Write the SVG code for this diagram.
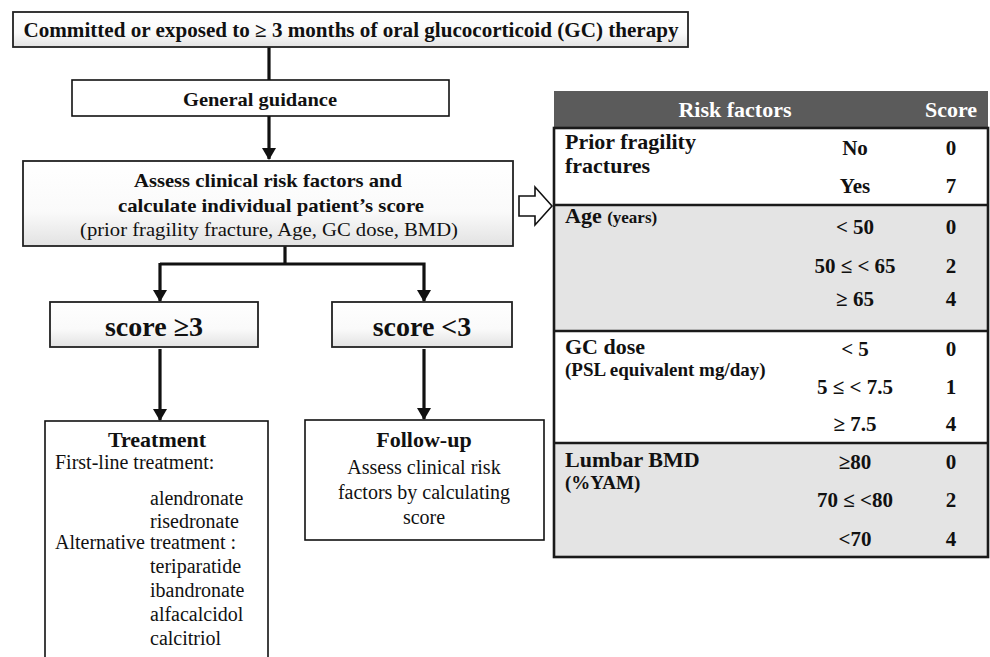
<svg xmlns="http://www.w3.org/2000/svg" width="990" height="657" viewBox="0 0 990 657">
<style>
text{font-family:"Liberation Serif","Times New Roman",serif;fill:#111}
.b{font-weight:bold}
.c{text-anchor:middle}
.box{fill:url(#g);stroke:#222;stroke-width:1.8}
.plain{fill:#fff;stroke:#111;stroke-width:1.6}
.ln{stroke:#111;stroke-width:3.2;fill:none}
.hdr{fill:#fff;font-weight:bold;font-size:22px}
.lab{font-weight:bold;font-size:22px}
.sm{font-weight:bold;font-size:19px}
.v{font-weight:bold;font-size:21px;text-anchor:middle}
.sep{stroke:#1a1a1a;stroke-width:2.6}
.t{font-size:20px}
</style>
<defs>
<linearGradient id="g" x1="0" y1="0" x2="0" y2="1">
<stop offset="0" stop-color="#ffffff"/><stop offset="0.6" stop-color="#fafafa"/><stop offset="1" stop-color="#e2e2e2"/>
</linearGradient>
<marker id="ah" viewBox="0 0 12 14" refX="11" refY="7" markerWidth="12" markerHeight="14" markerUnits="userSpaceOnUse" orient="auto">
<path d="M0,0 L12,7 L0,14 Z" fill="#111"/>
</marker>
</defs>

<g id="connectors">
<line class="ln" x1="269" y1="47" x2="269" y2="80"/>
<line class="ln" x1="269" y1="116" x2="269" y2="159" marker-end="url(#ah)"/>
<polyline class="ln" points="285,246 285,264"/>
<polyline class="ln" points="160,264 424,264 424,301" marker-end="url(#ah)"/>
<line class="ln" x1="160" y1="263" x2="160" y2="301" marker-end="url(#ah)"/>
<line class="ln" x1="160" y1="349" x2="160" y2="420" marker-end="url(#ah)"/>
<line class="ln" x1="424" y1="349" x2="424" y2="419" marker-end="url(#ah)"/>
<polygon points="519,196 535,196 535,187 552,206 535,225 535,216 519,216" fill="#fff" stroke="#111" stroke-width="1.6"/>
</g>

<g id="n-top">
<rect class="box" x="13" y="12" width="675" height="35"/>
<text class="b" x="351" y="37" font-size="20" text-anchor="middle" textLength="655" lengthAdjust="spacingAndGlyphs">Committed or exposed to ≥ 3 months of oral glucocorticoid (GC) therapy</text>
</g>

<g id="n-general">
<rect class="plain" x="72" y="80" width="377" height="36"/>
<text class="b" x="260" y="106" font-size="19" text-anchor="middle" textLength="154" lengthAdjust="spacingAndGlyphs">General guidance</text>
</g>

<g id="n-assess">
<rect class="box" x="23" y="161" width="490" height="85"/>
<text class="b c" x="268" y="187" font-size="19" textLength="268" lengthAdjust="spacingAndGlyphs">Assess clinical risk factors and</text>
<text class="b c" x="271" y="212" font-size="19" textLength="306" lengthAdjust="spacingAndGlyphs">calculate individual patient’s score</text>
<text class="c" x="269" y="236" font-size="19" textLength="378" lengthAdjust="spacingAndGlyphs">(prior fragility fracture, Age, GC dose, BMD)</text>
</g>

<g id="n-score-high">
<rect class="box" x="50" y="302" width="208" height="45"/>
<text class="b c" x="154" y="336" font-size="28">score ≥3</text>
</g>

<g id="n-score-low">
<rect class="box" x="332" y="302" width="180" height="45"/>
<text class="b c" x="422" y="336" font-size="28">score &lt;3</text>
</g>

<g id="n-treatment">
<rect class="plain" x="45" y="421" width="223" height="260"/>
<text class="b c" x="157" y="447" font-size="22">Treatment</text>
<text class="t" x="55" y="469">First-line treatment:</text>
<text class="t" x="150" y="505">alendronate</text>
<text class="t" x="150" y="528">risedronate</text>
<text class="t" x="55" y="549">Alternative treatment :</text>
<text class="t" x="150" y="573">teriparatide</text>
<text class="t" x="150" y="597">ibandronate</text>
<text class="t" x="150" y="621">alfacalcidol</text>
<text class="t" x="150" y="645">calcitriol</text>
</g>

<g id="n-followup">
<rect class="plain" x="305" y="420" width="239" height="120"/>
<text class="b c" x="424" y="447" font-size="22">Follow-up</text>
<text class="t c" x="424" y="474">Assess clinical risk</text>
<text class="t c" x="424" y="499">factors by calculating</text>
<text class="t c" x="424" y="524">score</text>
</g>

<g id="n-table">
<rect x="554" y="91" width="434" height="37" fill="#5b5b5b"/>
<text class="hdr c" x="735" y="117">Risk factors</text>
<text class="hdr c" x="951" y="117">Score</text>
<rect x="554" y="128" width="434" height="77" fill="#fff"/>
<rect x="554" y="205" width="434" height="126" fill="#e4e4e4"/>
<rect x="554" y="331" width="434" height="112" fill="#fff"/>
<rect x="554" y="443" width="434" height="114" fill="#e4e4e4"/>
<rect x="554" y="128" width="434" height="429" fill="none" stroke="#1a1a1a" stroke-width="2.6"/>
<line class="sep" x1="554" y1="205" x2="988" y2="205"/>
<line class="sep" x1="554" y1="331" x2="988" y2="331"/>
<line class="sep" x1="554" y1="443" x2="988" y2="443"/>

<text class="lab" x="565" y="149">Prior fragility</text>
<text class="lab" x="565" y="173">fractures</text>
<text class="v" x="855" y="155">No</text><text class="v" x="951" y="155">0</text>
<text class="v" x="855" y="193">Yes</text><text class="v" x="951" y="193">7</text>

<text x="565" y="223"><tspan class="lab">Age </tspan><tspan class="b" font-size="17">(years)</tspan></text>
<text class="v" x="855" y="234">&lt; 50</text><text class="v" x="951" y="234">0</text>
<text class="v" x="855" y="273">50 ≤  &lt; 65</text><text class="v" x="951" y="273">2</text>
<text class="v" x="855" y="306">≥ 65</text><text class="v" x="951" y="306">4</text>

<text class="lab" x="565" y="354">GC dose</text>
<text class="sm" x="565" y="376">(PSL equivalent mg/day)</text>
<text class="v" x="855" y="356">&lt; 5</text><text class="v" x="951" y="356">0</text>
<text class="v" x="855" y="394">5 ≤   &lt;  7.5</text><text class="v" x="951" y="394">1</text>
<text class="v" x="855" y="431">≥ 7.5</text><text class="v" x="951" y="431">4</text>

<text class="lab" x="565" y="467">Lumbar BMD</text>
<text class="sm" x="565" y="489">(%YAM)</text>
<text class="v" x="855" y="469">≥80</text><text class="v" x="951" y="469">0</text>
<text class="v" x="855" y="507">70 ≤  &lt;80</text><text class="v" x="951" y="507">2</text>
<text class="v" x="855" y="546">&lt;70</text><text class="v" x="951" y="546">4</text>
</g>
</svg>
